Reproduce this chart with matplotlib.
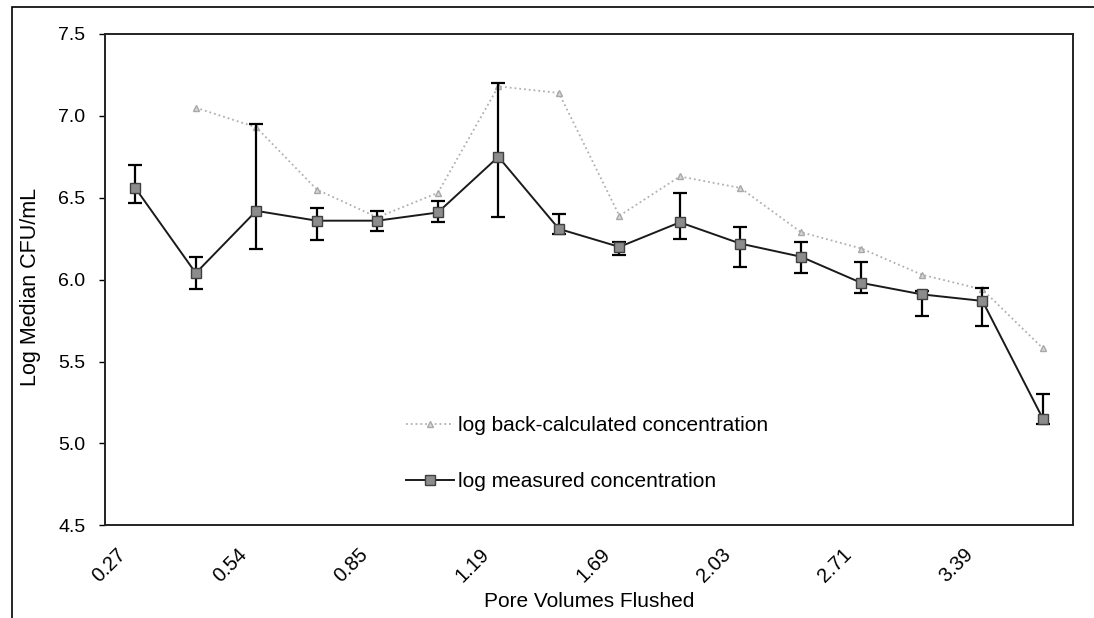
import numpy as np
import matplotlib
matplotlib.use("Agg")
import matplotlib.pyplot as plt
from matplotlib.patches import Rectangle
from matplotlib.transforms import ScaledTranslation

plt.rcParams['font.family'] = ['Liberation Sans', 'DejaVu Sans']

# categories (only every second label is shown on the original chart)
pore_labels = ["0.27", "", "0.54", "", "0.85", "", "1.19", "",
               "1.69", "", "2.03", "", "2.71", "", "3.39", ""]

measured = [6.56, 6.04, 6.42, 6.36, 6.36, 6.41, 6.75, 6.31,
            6.20, 6.35, 6.22, 6.14, 5.98, 5.91, 5.87, 5.15]
meas_hi = [6.70, 6.14, 6.95, 6.44, 6.42, 6.48, 7.20, 6.40,
           6.23, 6.53, 6.32, 6.23, 6.11, 5.93, 5.95, 5.30]
meas_lo = [6.47, 5.94, 6.19, 6.24, 6.30, 6.35, 6.38, 6.28,
           6.15, 6.25, 6.08, 6.04, 5.92, 5.78, 5.72, 5.12]

# back-calculated series starts at the second category
back_calc = [np.nan, 7.05, 6.93, 6.55, 6.38, 6.53, 7.18, 7.14,
             6.39, 6.63, 6.56, 6.29, 6.19, 6.03, 5.94, 5.58]

x = np.arange(len(pore_labels))
measured = np.array(measured)
yerr = [measured - np.array(meas_lo), np.array(meas_hi) - measured]

fig = plt.figure(figsize=(10.94, 6.18), dpi=100)
ax = fig.add_axes([0.096, 0.150, 0.885, 0.795])

# outer frame of the pasted figure (only top and left visible)
fig.patches.append(Rectangle((0.011, -0.1), 1.2, 1.089, transform=fig.transFigure,
                             fill=False, edgecolor='black', linewidth=1.2))

ax.plot(x, back_calc, linestyle=':', color='#b0b0b0', linewidth=1.3,
        marker='^', markersize=5, markerfacecolor='#d8d8d8', markeredgecolor='#a8a8a8',
        label='log back-calculated concentration', zorder=2)

ax.errorbar(x, measured, yerr=yerr, fmt='none', ecolor='black', elinewidth=1.6,
            capsize=5, capthick=1.6, zorder=3)
ax.plot(x, measured, color='#1a1a1a', linewidth=1.4, marker='s', markersize=7,
        markerfacecolor='#8c8c8c', markeredgecolor='#404040', markeredgewidth=1,
        label='log measured concentration', zorder=4)

ax.set_xlim(-0.5, len(pore_labels) - 0.5)
ax.set_ylim(4.5, 7.5)
ax.set_yticks(np.arange(4.5, 7.51, 0.5))
ax.set_yticklabels([f"{v:.1f}" for v in np.arange(4.5, 7.51, 0.5)])
ax.set_xticks(x)
ax.set_xticklabels(pore_labels, rotation=45, ha='right', va='center',
                   rotation_mode='anchor')

ax.tick_params(axis='y', direction='out', length=4, width=1, labelsize=14, pad=10)
ax.tick_params(axis='x', length=0, labelsize=14.5, pad=19)
shift = ScaledTranslation(-9 / 72, 0, fig.dpi_scale_trans)
for lab in ax.get_xticklabels():
    lab.set_transform(lab.get_transform() + shift)

for s in ax.spines.values():
    s.set_color('#222222')
    s.set_linewidth(1.4)

ax.set_ylabel('Log Median CFU/mL', fontsize=15.5)
ax.yaxis.set_label_coords(-0.066, 0.485)
ax.set_xlabel('Pore Volumes Flushed', fontsize=15)
ax.xaxis.set_label_coords(0.5, -0.135)

ax.legend(loc='center left', bbox_to_anchor=(0.302, 0.146), frameon=False,
          fontsize=15, handlelength=2.3, handletextpad=0.2, labelspacing=1.75,
          borderaxespad=0)

fig.savefig('out.png', dpi=100)
